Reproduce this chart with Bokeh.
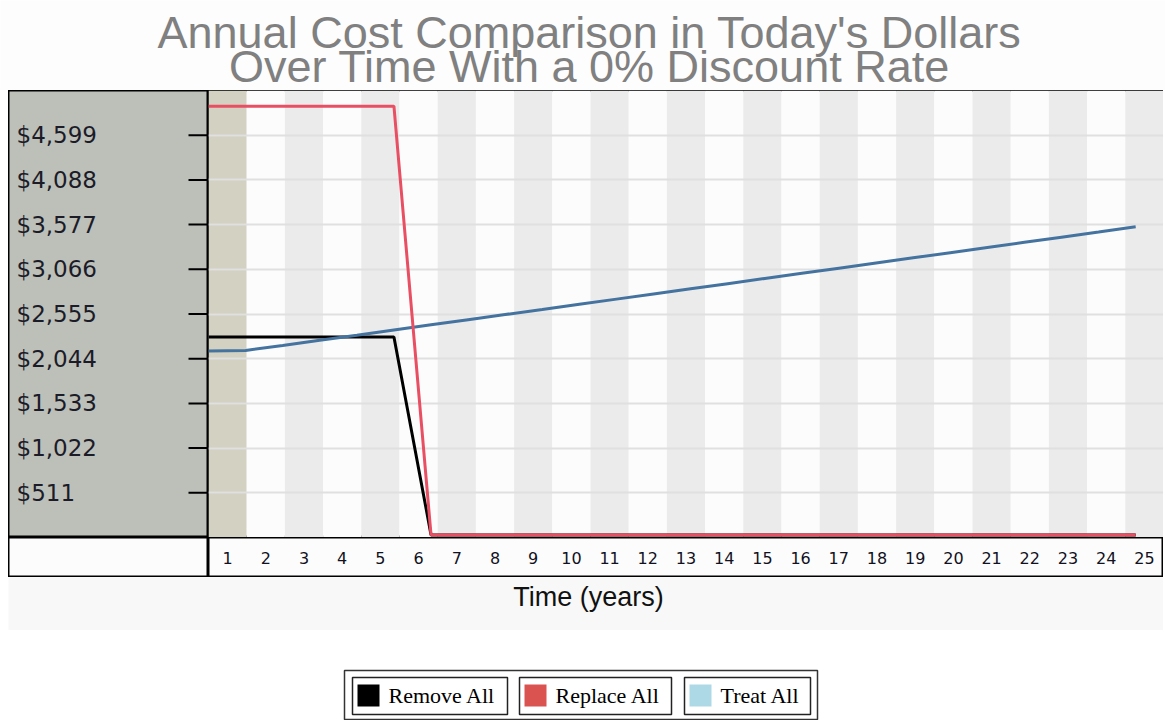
from bokeh.plotting import figure
from bokeh.layouts import column, row
from bokeh.models import Range1d, Spacer
from bokeh.embed import file_html
from bokeh.resources import INLINE
from bokeh.core.properties import value

# ---------------- data ----------------
title_lines = ["Annual Cost Comparison in Today's Dollars",
               "Over Time With a 0% Discount Rate"]
x_label = "Time (years)"
years = [1, 2, 3, 4, 5, 6, 7, 8, 9, 10, 11, 12, 13, 14, 15, 16, 17, 18, 19, 20, 21, 22, 23, 24, 25]
line_years = [0, 1, 2, 3, 4, 5, 6, 7, 8, 9, 10, 11, 12, 13, 14, 15, 16, 17, 18, 19, 20, 21, 22, 23, 24, 25]
remove_all = [2293, 2293, 2293, 2293, 2293, 2293, 30, 30, 30, 30, 30, 30, 30,
              30, 30, 30, 30, 30, 30, 30, 30, 30, 30, 30, 30, 30]
replace_all = [4930, 4930, 4930, 4930, 4930, 4930, 30, 30, 30, 30, 30, 30, 30,
               30, 30, 30, 30, 30, 30, 30, 30, 30, 30, 30, 30, 30]
treat_all = [2133, 2138, 2196, 2255, 2313, 2372, 2431, 2490, 2549, 2607, 2666, 2725, 2784,
             2843, 2902, 2961, 3020, 3079, 3138, 3197, 3256, 3315, 3374, 3433, 3492, 3553]
y_ticks = [511, 1022, 1533, 2044, 2555, 3066, 3577, 4088, 4599]
y_tick_labels = ["$511", "$1,022", "$1,533", "$2,044", "$2,555", "$3,066", "$3,577", "$4,088", "$4,599"]
y_max = 5110
legend_labels = ["Remove All", "Replace All", "Treat All"]

# ---------------- styles ----------------
C_BLACK = "#000000"
C_RED = "#e84f62"
C_BLUE = "#44739f"
legend_colors = ["#000000", "#db5350", "#add8e6"]
PANEL = "#bcc0b9"
TAN = "#d3d1c1"
BAND_GRAY = "#ebebeb"
BAND_WHITE = "#fcfcfc"
SANS = "Liberation Sans"
VERD = "DejaVu Sans"
SERIF = "Liberation Serif"

PAGE_W = 1165
W_LEFT = 200
W_PLOT = 955
W_TOTAL = W_LEFT + W_PLOT
H_TITLE = 90
H_MAIN = 447
H_XAX = 40
H_XLAB = 53
H_LEG = 90


def blank(w, h, xr, yr, bg, outline=None):
    f = figure(width=w, height=h, x_range=xr, y_range=yr, output_backend="svg",
               toolbar_location=None, min_border=0, x_axis_type=None, y_axis_type=None)
    f.background_fill_color = bg
    f.border_fill_color = bg
    if outline:
        f.outline_line_color = outline
        f.outline_line_width = 2
    else:
        f.outline_line_color = None
    return f


# ---------------- title ----------------
ft = blank(PAGE_W, H_TITLE, Range1d(0, PAGE_W), Range1d(H_TITLE, 0), "#fdfdfd")
ft.text(x=[589, 589], y=[31.5, 65.5], text=title_lines, text_align="center",
        text_baseline="middle", text_font=value(SANS), text_font_size="45px",
        text_color="#808080")

# ---------------- main row ----------------
yr = Range1d(0, y_max)
xr = Range1d(0.5, 25.5)

fy = blank(W_LEFT, H_MAIN, Range1d(0, W_LEFT), yr, PANEL, outline="black")
fy.segment(x0=[180] * len(y_ticks), x1=[200] * len(y_ticks), y0=y_ticks, y1=y_ticks,
           line_color="black", line_width=2)
fy.text(x=[8] * len(y_ticks), y=y_ticks, text=y_tick_labels, text_align="left",
        text_baseline="middle", text_font=value(VERD), text_font_size="23px",
        text_color="#1c1c28")

fm = blank(W_PLOT, H_MAIN, xr, yr, BAND_WHITE, outline="black")
fm.extra_x_ranges = {"t": Range1d(0, 25.75)}
band_colors = [TAN if y == 1 else (BAND_WHITE if y % 2 == 0 else BAND_GRAY) for y in years]
fm.quad(left=[y - 0.5 for y in years], right=[y + 0.5 for y in years],
        bottom=0, top=y_max, fill_color=band_colors, line_color=None)
fm.hspan(y=y_ticks, line_color="#e0e0e0", line_width=2)
fm.line(line_years, remove_all, x_range_name="t", line_color=C_BLACK, line_width=3)
fm.line(line_years, treat_all, x_range_name="t", line_color=C_BLUE, line_width=3)
fm.line(line_years, replace_all, x_range_name="t", line_color=C_RED, line_width=3)

# ---------------- x axis row ----------------
fc = blank(W_LEFT, H_XAX, Range1d(0, 1), Range1d(0, 1), "#fcfcfc", outline="black")
fx = blank(W_PLOT, H_XAX, xr, Range1d(0, 1), "#fcfcfc", outline="black")
fx.text(x=years, y=[0.5] * len(years), text=[str(y) for y in years], text_align="center",
        text_baseline="middle", text_font=value(VERD), text_font_size="16px",
        text_color="#111122")

# ---------------- x label ----------------
fl = blank(W_TOTAL, H_XLAB, Range1d(0, W_TOTAL), Range1d(H_XLAB, 0), "#f8f8f8")
fl.text(x=[580], y=[19], text=[x_label], text_align="center", text_baseline="middle",
        text_font=value(SANS), text_font_size="27px", text_color="#111111")

# ---------------- legend ----------------
fg = blank(W_TOTAL, H_LEG, Range1d(0, W_TOTAL), Range1d(H_LEG, 0), "#ffffff")
box_l = [344, 511, 676]
box_r = [499, 663, 802]
fg.quad(left=[336], right=[809], top=[40], bottom=[89], fill_color=None,
        line_color="#333333", line_width=1.5)
fg.quad(left=box_l, right=box_r, top=[47] * 3, bottom=[84] * 3, fill_color=None,
        line_color="#222222", line_width=1.5)
fg.quad(left=[b + 5 for b in box_l], right=[b + 27 for b in box_l], top=[54] * 3,
        bottom=[76] * 3, fill_color=legend_colors, line_color=None)
fg.text(x=[b + 36 for b in box_l], y=[65] * 3, text=legend_labels, text_align="left",
        text_baseline="middle", text_font=value(SERIF), text_font_size="22px",
        text_color="#000000")

body = column(row(fy, fm), row(fc, fx), fl, fg)
layout = column(ft, row(Spacer(width=8), body))
open("out.html", "w").write(file_html(layout, INLINE))
